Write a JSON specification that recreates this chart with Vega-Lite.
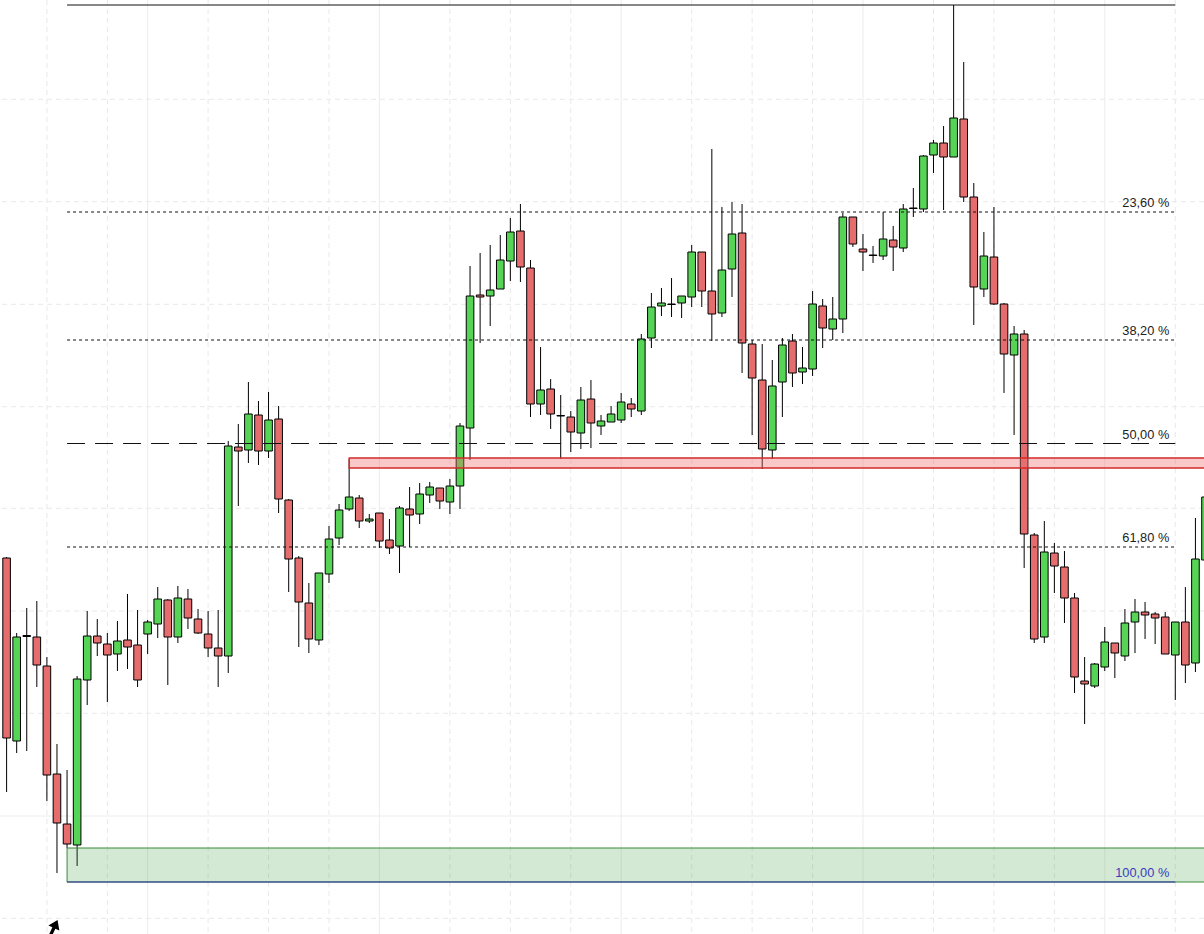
{
  "$schema": "https://vega.github.io/schema/vega-lite/v6.json",
  "width": 1204,
  "height": 934,
  "autosize": {"type": "none"},
  "padding": 0,
  "background": "white",
  "config": {"view": {"stroke": null}, "scale": {"continuousPadding": 0}},
  "datasets": {
    "candles": [
      {"i":0,"open":1.1324,"high":1.1325,"low":1.1090,"close":1.1144},
      {"i":1,"open":1.1141,"high":1.1249,"low":1.1129,"close":1.1245},
      {"i":2,"open":1.12455,"high":1.1274,"low":1.1131,"close":1.12465},
      {"i":3,"open":1.1245,"high":1.1281,"low":1.1195,"close":1.1217},
      {"i":4,"open":1.1216,"high":1.1225,"low":1.1081,"close":1.1107},
      {"i":5,"open":1.1108,"high":1.1138,"low":1.1009,"close":1.1059},
      {"i":6,"open":1.1058,"high":1.1112,"low":1.1034,"close":1.1038},
      {"i":7,"open":1.1037,"high":1.1206,"low":1.1016,"close":1.1203},
      {"i":8,"open":1.1202,"high":1.1271,"low":1.1177,"close":1.1246},
      {"i":9,"open":1.1246,"high":1.1263,"low":1.1226,"close":1.1239},
      {"i":10,"open":1.1238,"high":1.1249,"low":1.1180,"close":1.1227},
      {"i":11,"open":1.1228,"high":1.1261,"low":1.1211,"close":1.1241},
      {"i":12,"open":1.1242,"high":1.1288,"low":1.1213,"close":1.1235},
      {"i":13,"open":1.1237,"high":1.1272,"low":1.1195,"close":1.1202},
      {"i":14,"open":1.1248,"high":1.1262,"low":1.1228,"close":1.1260},
      {"i":15,"open":1.1258,"high":1.1295,"low":1.1244,"close":1.1283},
      {"i":16,"open":1.1282,"high":1.1283,"low":1.1197,"close":1.1245},
      {"i":17,"open":1.1245,"high":1.1296,"low":1.1239,"close":1.1284},
      {"i":18,"open":1.1283,"high":1.1293,"low":1.1253,"close":1.1264},
      {"i":19,"open":1.1263,"high":1.1273,"low":1.1248,"close":1.1249},
      {"i":20,"open":1.1248,"high":1.1271,"low":1.1225,"close":1.1234},
      {"i":21,"open":1.1234,"high":1.1272,"low":1.1195,"close":1.1226},
      {"i":22,"open":1.1226,"high":1.1441,"low":1.1209,"close":1.1436},
      {"i":23,"open":1.1435,"high":1.1458,"low":1.1376,"close":1.1431},
      {"i":24,"open":1.1432,"high":1.1500,"low":1.1419,"close":1.1468},
      {"i":25,"open":1.1467,"high":1.1481,"low":1.1417,"close":1.1431},
      {"i":26,"open":1.1431,"high":1.1490,"low":1.1424,"close":1.1462},
      {"i":27,"open":1.1463,"high":1.1476,"low":1.1369,"close":1.1383},
      {"i":28,"open":1.1382,"high":1.1383,"low":1.1290,"close":1.1323},
      {"i":29,"open":1.1324,"high":1.1326,"low":1.1235,"close":1.1280},
      {"i":30,"open":1.1279,"high":1.1299,"low":1.1229,"close":1.1243},
      {"i":31,"open":1.1242,"high":1.1309,"low":1.1237,"close":1.1309},
      {"i":32,"open":1.1308,"high":1.1356,"low":1.1299,"close":1.1343},
      {"i":33,"open":1.1344,"high":1.1378,"low":1.1337,"close":1.1372},
      {"i":34,"open":1.1373,"high":1.1423,"low":1.1371,"close":1.1385},
      {"i":35,"open":1.1384,"high":1.1387,"low":1.1354,"close":1.1361},
      {"i":36,"open":1.1361,"high":1.1368,"low":1.1359,"close":1.1363},
      {"i":37,"open":1.1369,"high":1.1369,"low":1.1334,"close":1.1341},
      {"i":38,"open":1.1342,"high":1.1363,"low":1.1328,"close":1.1334},
      {"i":39,"open":1.1336,"high":1.1376,"low":1.1309,"close":1.1374},
      {"i":40,"open":1.1373,"high":1.1395,"low":1.1335,"close":1.1367},
      {"i":41,"open":1.1368,"high":1.1399,"low":1.1358,"close":1.1388},
      {"i":42,"open":1.1387,"high":1.1400,"low":1.1379,"close":1.1395},
      {"i":43,"open":1.1394,"high":1.1394,"low":1.1373,"close":1.1381},
      {"i":44,"open":1.1380,"high":1.1403,"low":1.1368,"close":1.1396},
      {"i":45,"open":1.1396,"high":1.1459,"low":1.1373,"close":1.1456},
      {"i":46,"open":1.1454,"high":1.1616,"low":1.1422,"close":1.1586},
      {"i":47,"open":1.1587,"high":1.1629,"low":1.1539,"close":1.1585},
      {"i":48,"open":1.1586,"high":1.1637,"low":1.1556,"close":1.1592},
      {"i":49,"open":1.1593,"high":1.1647,"low":1.1593,"close":1.1622},
      {"i":50,"open":1.1621,"high":1.1664,"low":1.1601,"close":1.1650},
      {"i":51,"open":1.1651,"high":1.1678,"low":1.1600,"close":1.1615},
      {"i":52,"open":1.1614,"high":1.1622,"low":1.1465,"close":1.1478},
      {"i":53,"open":1.1478,"high":1.1535,"low":1.1467,"close":1.1492},
      {"i":54,"open":1.1493,"high":1.1503,"low":1.1453,"close":1.1468},
      {"i":55,"open":1.1466,"high":1.1487,"low":1.1423,"close":1.14665},
      {"i":56,"open":1.1465,"high":1.1471,"low":1.1430,"close":1.1450},
      {"i":57,"open":1.1449,"high":1.1495,"low":1.1433,"close":1.1482},
      {"i":58,"open":1.1483,"high":1.1502,"low":1.1434,"close":1.1459},
      {"i":59,"open":1.1456,"high":1.1467,"low":1.1447,"close":1.1461},
      {"i":60,"open":1.1460,"high":1.1476,"low":1.1460,"close":1.1468},
      {"i":61,"open":1.1462,"high":1.1489,"low":1.1459,"close":1.1480},
      {"i":62,"open":1.1478,"high":1.1484,"low":1.1465,"close":1.1473},
      {"i":63,"open":1.1471,"high":1.1548,"low":1.1467,"close":1.1543},
      {"i":64,"open":1.1544,"high":1.1589,"low":1.1534,"close":1.1575},
      {"i":65,"open":1.1576,"high":1.1594,"low":1.1566,"close":1.1579},
      {"i":66,"open":1.15775,"high":1.1604,"low":1.1565,"close":1.1578},
      {"i":67,"open":1.1579,"high":1.1586,"low":1.1564,"close":1.1586},
      {"i":68,"open":1.1585,"high":1.1637,"low":1.1575,"close":1.1630},
      {"i":69,"open":1.1630,"high":1.1630,"low":1.1575,"close":1.1591},
      {"i":70,"open":1.1591,"high":1.1733,"low":1.1541,"close":1.1568},
      {"i":71,"open":1.1569,"high":1.1675,"low":1.1565,"close":1.1612},
      {"i":72,"open":1.1613,"high":1.1680,"low":1.1585,"close":1.1648},
      {"i":73,"open":1.1649,"high":1.1678,"low":1.1509,"close":1.1539},
      {"i":74,"open":1.1538,"high":1.1542,"low":1.1447,"close":1.1504},
      {"i":75,"open":1.1502,"high":1.1538,"low":1.1413,"close":1.1433},
      {"i":76,"open":1.1432,"high":1.1522,"low":1.1423,"close":1.1496},
      {"i":77,"open":1.1500,"high":1.1544,"low":1.1465,"close":1.1537},
      {"i":78,"open":1.1541,"high":1.1548,"low":1.1495,"close":1.1509},
      {"i":79,"open":1.1510,"high":1.1535,"low":1.1498,"close":1.1514},
      {"i":80,"open":1.1513,"high":1.1591,"low":1.1506,"close":1.1578},
      {"i":81,"open":1.1576,"high":1.1583,"low":1.1534,"close":1.1554},
      {"i":82,"open":1.1553,"high":1.1585,"low":1.1542,"close":1.1563},
      {"i":83,"open":1.1563,"high":1.1669,"low":1.1549,"close":1.1665},
      {"i":84,"open":1.1665,"high":1.1665,"low":1.1635,"close":1.1638},
      {"i":85,"open":1.1633,"high":1.1648,"low":1.1611,"close":1.1630},
      {"i":86,"open":1.16265,"high":1.1636,"low":1.1619,"close":1.1627},
      {"i":87,"open":1.1626,"high":1.1670,"low":1.1622,"close":1.1643},
      {"i":88,"open":1.1642,"high":1.1656,"low":1.1611,"close":1.1635},
      {"i":89,"open":1.1634,"high":1.1678,"low":1.1630,"close":1.1673},
      {"i":90,"open":1.16735,"high":1.1694,"low":1.1665,"close":1.1674},
      {"i":91,"open":1.1673,"high":1.1727,"low":1.1670,"close":1.1726},
      {"i":92,"open":1.1727,"high":1.1742,"low":1.1709,"close":1.1739},
      {"i":93,"open":1.1739,"high":1.1756,"low":1.1672,"close":1.1725},
      {"i":94,"open":1.1725,"high":1.1877,"low":1.1725,"close":1.1764},
      {"i":95,"open":1.1763,"high":1.1820,"low":1.1680,"close":1.1685},
      {"i":96,"open":1.1685,"high":1.1699,"low":1.1557,"close":1.1595},
      {"i":97,"open":1.1593,"high":1.1650,"low":1.1585,"close":1.1626},
      {"i":98,"open":1.1625,"high":1.1675,"low":1.1577,"close":1.1578},
      {"i":99,"open":1.1578,"high":1.1579,"low":1.1489,"close":1.1528},
      {"i":100,"open":1.1527,"high":1.1556,"low":1.1447,"close":1.1548},
      {"i":101,"open":1.1548,"high":1.1552,"low":1.1314,"close":1.1348},
      {"i":102,"open":1.1347,"high":1.1349,"low":1.1239,"close":1.1243},
      {"i":103,"open":1.1245,"high":1.1361,"low":1.1239,"close":1.1330},
      {"i":104,"open":1.1329,"high":1.1339,"low":1.1289,"close":1.1316},
      {"i":105,"open":1.1315,"high":1.1331,"low":1.1259,"close":1.1284},
      {"i":106,"open":1.1284,"high":1.1289,"low":1.1189,"close":1.1205},
      {"i":107,"open":1.1201,"high":1.1225,"low":1.1158,"close":1.1198},
      {"i":108,"open":1.1196,"high":1.1219,"low":1.1194,"close":1.1218},
      {"i":109,"open":1.1215,"high":1.1255,"low":1.1211,"close":1.1240},
      {"i":110,"open":1.1239,"high":1.1239,"low":1.1204,"close":1.1229},
      {"i":111,"open":1.1226,"high":1.1273,"low":1.1221,"close":1.1259},
      {"i":112,"open":1.1260,"high":1.1283,"low":1.1229,"close":1.1270},
      {"i":113,"open":1.1270,"high":1.1280,"low":1.1243,"close":1.1267},
      {"i":114,"open":1.1268,"high":1.1270,"low":1.1238,"close":1.1264},
      {"i":115,"open":1.1265,"high":1.1270,"low":1.1228,"close":1.1228},
      {"i":116,"open":1.1227,"high":1.1260,"low":1.1182,"close":1.1260},
      {"i":117,"open":1.1260,"high":1.1295,"low":1.1199,"close":1.1217},
      {"i":118,"open":1.1219,"high":1.1364,"low":1.1210,"close":1.1323},
      {"i":119,"open":1.1322,"high":1.1392,"low":1.1317,"close":1.1385}
    ],
    "vgridDashed": [{"i":4},{"i":10},{"i":20},{"i":26},{"i":32},{"i":44},{"i":50},{"i":56},{"i":68},{"i":74},{"i":80},{"i":92},{"i":98},{"i":104},{"i":116}],
    "vgridSolid": [{"i":14},{"i":37},{"i":61},{"i":85},{"i":109}],
    "hgridDashed": [{"p":1.17827},{"p":1.16803},{"p":1.15777},{"p":1.14753},{"p":1.13737},{"p":1.1271},{"p":1.11687},{"p":1.09637}],
    "hgridSolid": [{"p":1.1066}],
    "supportZone": [{"start":6,"end":121,"top":1.1034,"bottom":1.1000}],
    "resistanceZone": [{"start":34,"end":121,"top":1.1424,"bottom":1.1414}],
    "fibDotted": [
      {"start":6,"end":116,"level":1.1670,"label":"23,60 %"},
      {"start":6,"end":116,"level":1.1542,"label":"38,20 %"},
      {"start":6,"end":116,"level":1.1335,"label":"61,80 %"}
    ],
    "fibDashed": [{"start":6,"end":116,"level":1.14385,"label":"50,00 %"}],
    "fibTop": [{"start":6,"end":116,"level":1.1877,"label":"0,00 %"}],
    "fibBottom": [{"start":6,"end":116,"level":1.1000,"label":"100,00 %"}],
    "cursor": [{"i":4.6,"p":1.0952}]
  },
  "layer": [
    {
      "data": {"name": "vgridDashed"},
      "mark": {"type": "rule", "color": "#e9e9e9", "strokeWidth": 1, "strokeDash": [5, 4]},
      "encoding": {
        "x": {"field": "i", "type": "quantitative", "scale": {"domain": [-0.655, 118.85], "nice": false, "zero": false, "padding": 0}, "axis": null}
      }
    },
    {
      "data": {"name": "vgridSolid"},
      "mark": {"type": "rule", "color": "#ececec", "strokeWidth": 1},
      "encoding": {
        "x": {"field": "i", "type": "quantitative", "scale": {"domain": [-0.655, 118.85], "nice": false, "zero": false, "padding": 0}, "axis": null}
      }
    },
    {
      "data": {"name": "hgridDashed"},
      "mark": {"type": "rule", "color": "#e9e9e9", "strokeWidth": 1, "strokeDash": [5, 4]},
      "encoding": {
        "y": {"field": "p", "type": "quantitative", "scale": {"domain": [1.0948, 1.1882], "nice": false, "zero": false, "padding": 0}, "axis": null}
      }
    },
    {
      "data": {"name": "hgridSolid"},
      "mark": {"type": "rule", "color": "#ececec", "strokeWidth": 1},
      "encoding": {
        "y": {"field": "p", "type": "quantitative", "scale": {"domain": [1.0948, 1.1882], "nice": false, "zero": false, "padding": 0}, "axis": null}
      }
    },
    {
      "data": {"name": "candles"},
      "mark": {"type": "rule", "color": "#000000", "strokeWidth": 1, "clip": true},
      "encoding": {
        "x": {"field": "i", "type": "quantitative", "scale": {"domain": [-0.655, 118.85], "nice": false, "zero": false, "padding": 0}, "axis": null},
        "y": {"field": "low", "type": "quantitative", "scale": {"domain": [1.0948, 1.1882], "nice": false, "zero": false, "padding": 0}, "axis": null},
        "y2": {"field": "high"}
      }
    },
    {
      "data": {"name": "candles"},
      "mark": {"type": "bar", "width": 7.6, "stroke": "#000000", "strokeWidth": 1, "clip": true},
      "encoding": {
        "x": {"field": "i", "type": "quantitative", "scale": {"domain": [-0.655, 118.85], "nice": false, "zero": false, "padding": 0}, "axis": null},
        "y": {"field": "open", "type": "quantitative", "scale": {"domain": [1.0948, 1.1882], "nice": false, "zero": false, "padding": 0}, "axis": null},
        "y2": {"field": "close"},
        "color": {"condition": {"test": "datum.close >= datum.open", "value": "#56d456"}, "value": "#e56d6d"}
      }
    },
    {
      "data": {"name": "supportZone"},
      "mark": {"type": "rect", "fill": "#3a9a3a", "fillOpacity": 0.22, "stroke": "#3a8a3a", "strokeWidth": 1, "clip": true},
      "encoding": {
        "x": {"field": "start", "type": "quantitative", "scale": {"domain": [-0.655, 118.85], "nice": false, "zero": false, "padding": 0}, "axis": null},
        "x2": {"field": "end"},
        "y": {"field": "top", "type": "quantitative", "scale": {"domain": [1.0948, 1.1882], "nice": false, "zero": false, "padding": 0}, "axis": null},
        "y2": {"field": "bottom"}
      }
    },
    {
      "data": {"name": "resistanceZone"},
      "mark": {"type": "rect", "fill": "#f07070", "fillOpacity": 0.38, "stroke": "#d42a2a", "strokeWidth": 1.3, "clip": true},
      "encoding": {
        "x": {"field": "start", "type": "quantitative", "scale": {"domain": [-0.655, 118.85], "nice": false, "zero": false, "padding": 0}, "axis": null},
        "x2": {"field": "end"},
        "y": {"field": "top", "type": "quantitative", "scale": {"domain": [1.0948, 1.1882], "nice": false, "zero": false, "padding": 0}, "axis": null},
        "y2": {"field": "bottom"}
      }
    },
    {
      "data": {"name": "fibDotted"},
      "mark": {"type": "rule", "color": "#111111", "strokeWidth": 1, "strokeDash": [3, 3]},
      "encoding": {
        "x": {"field": "start", "type": "quantitative", "scale": {"domain": [-0.655, 118.85], "nice": false, "zero": false, "padding": 0}, "axis": null},
        "x2": {"field": "end"},
        "y": {"field": "level", "type": "quantitative", "scale": {"domain": [1.0948, 1.1882], "nice": false, "zero": false, "padding": 0}, "axis": null}
      }
    },
    {
      "data": {"name": "fibDashed"},
      "mark": {"type": "rule", "color": "#111111", "strokeWidth": 1, "strokeDash": [18, 10]},
      "encoding": {
        "x": {"field": "start", "type": "quantitative", "scale": {"domain": [-0.655, 118.85], "nice": false, "zero": false, "padding": 0}, "axis": null},
        "x2": {"field": "end"},
        "y": {"field": "level", "type": "quantitative", "scale": {"domain": [1.0948, 1.1882], "nice": false, "zero": false, "padding": 0}, "axis": null}
      }
    },
    {
      "data": {"name": "fibTop"},
      "mark": {"type": "rule", "color": "#111111", "strokeWidth": 1},
      "encoding": {
        "x": {"field": "start", "type": "quantitative", "scale": {"domain": [-0.655, 118.85], "nice": false, "zero": false, "padding": 0}, "axis": null},
        "x2": {"field": "end"},
        "y": {"field": "level", "type": "quantitative", "scale": {"domain": [1.0948, 1.1882], "nice": false, "zero": false, "padding": 0}, "axis": null}
      }
    },
    {
      "data": {"name": "fibBottom"},
      "mark": {"type": "rule", "color": "#2f2fa8", "strokeWidth": 1.2},
      "encoding": {
        "x": {"field": "start", "type": "quantitative", "scale": {"domain": [-0.655, 118.85], "nice": false, "zero": false, "padding": 0}, "axis": null},
        "x2": {"field": "end"},
        "y": {"field": "level", "type": "quantitative", "scale": {"domain": [1.0948, 1.1882], "nice": false, "zero": false, "padding": 0}, "axis": null}
      }
    },
    {
      "data": {"name": "fibDotted"},
      "mark": {"type": "text", "align": "right", "baseline": "alphabetic", "dx": -6, "dy": -5, "font": "Liberation Sans", "fontSize": 12.8, "color": "#222222"},
      "encoding": {
        "x": {"field": "end", "type": "quantitative", "scale": {"domain": [-0.655, 118.85], "nice": false, "zero": false, "padding": 0}, "axis": null},
        "y": {"field": "level", "type": "quantitative", "scale": {"domain": [1.0948, 1.1882], "nice": false, "zero": false, "padding": 0}, "axis": null},
        "text": {"field": "label"}
      }
    },
    {
      "data": {"name": "fibDashed"},
      "mark": {"type": "text", "align": "right", "baseline": "alphabetic", "dx": -6, "dy": -5, "font": "Liberation Sans", "fontSize": 12.8, "color": "#222222"},
      "encoding": {
        "x": {"field": "end", "type": "quantitative", "scale": {"domain": [-0.655, 118.85], "nice": false, "zero": false, "padding": 0}, "axis": null},
        "y": {"field": "level", "type": "quantitative", "scale": {"domain": [1.0948, 1.1882], "nice": false, "zero": false, "padding": 0}, "axis": null},
        "text": {"field": "label"}
      }
    },
    {
      "data": {"name": "fibBottom"},
      "mark": {"type": "text", "align": "right", "baseline": "alphabetic", "dx": -6, "dy": -5, "font": "Liberation Sans", "fontSize": 12.8, "color": "#3a3ac0"},
      "encoding": {
        "x": {"field": "end", "type": "quantitative", "scale": {"domain": [-0.655, 118.85], "nice": false, "zero": false, "padding": 0}, "axis": null},
        "y": {"field": "level", "type": "quantitative", "scale": {"domain": [1.0948, 1.1882], "nice": false, "zero": false, "padding": 0}, "axis": null},
        "text": {"field": "label"}
      }
    },
    {
      "data": {"name": "cursor"},
      "mark": {"type": "point", "shape": "M0,-1 L0.55,-0.2 L0.15,-0.2 L0.15,1 L-0.15,1 L-0.15,-0.2 L-0.55,-0.2 Z", "size": 480, "angle": 25, "filled": true, "color": "#000000", "opacity": 1, "clip": true},
      "encoding": {
        "x": {"field": "i", "type": "quantitative", "scale": {"domain": [-0.655, 118.85], "nice": false, "zero": false, "padding": 0}, "axis": null},
        "y": {"field": "p", "type": "quantitative", "scale": {"domain": [1.0948, 1.1882], "nice": false, "zero": false, "padding": 0}, "axis": null}
      }
    }
  ]
}
